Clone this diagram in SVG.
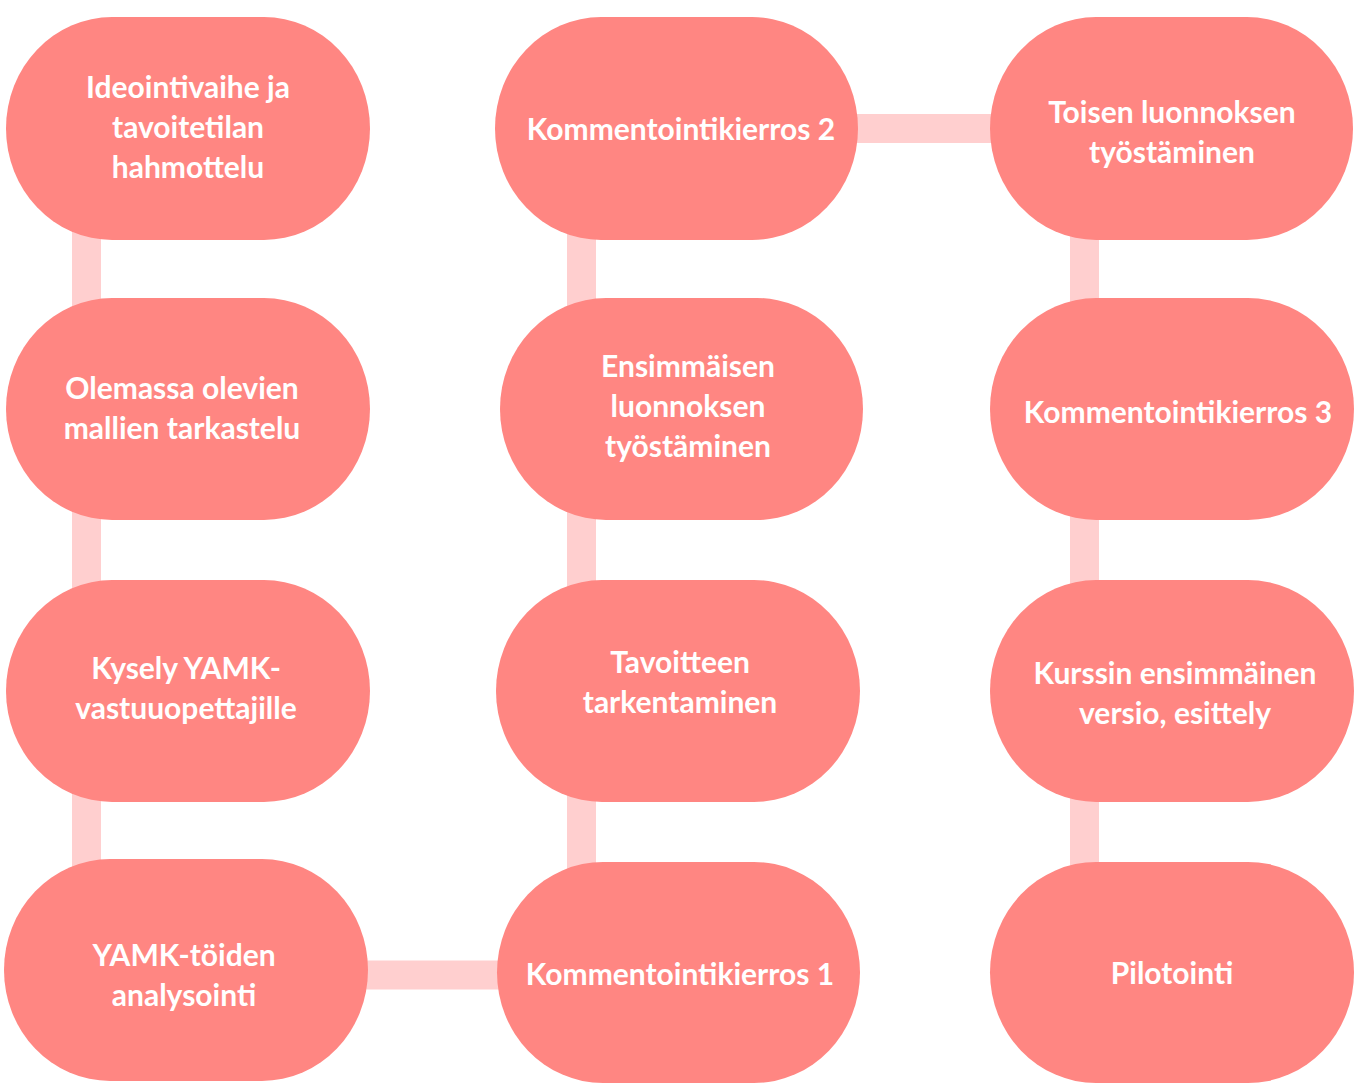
<svg xmlns="http://www.w3.org/2000/svg" width="1356" height="1090" viewBox="0 0 1356 1090">
<style>
.node{fill:#FF8682}
.edge{stroke:#FFCFCF;stroke-width:29;fill:none}
text{font-family:Lato,"Noto Sans",sans-serif;font-weight:bold;font-size:30px;fill:#FFFFFF;text-anchor:middle}
</style>
<rect width="1356" height="1090" fill="#FFFFFF"/>
<g id="connectors">
<line class="edge" x1="86.5" y1="128" x2="86.5" y2="410"/>
<line class="edge" x1="86.5" y1="410" x2="86.5" y2="690"/>
<line class="edge" x1="86.5" y1="690" x2="86.5" y2="975"/>
<path class="edge" d="M72 975 H581.5"/>
<line class="edge" x1="581.5" y1="975" x2="581.5" y2="690"/>
<line class="edge" x1="581.5" y1="690" x2="581.5" y2="410"/>
<line class="edge" x1="581.5" y1="410" x2="581.5" y2="128"/>
<line class="edge" x1="581.5" y1="128.5" x2="1084.5" y2="128.5"/>
<line class="edge" x1="1084.5" y1="128" x2="1084.5" y2="410"/>
<line class="edge" x1="1084.5" y1="410" x2="1084.5" y2="690"/>
<line class="edge" x1="1084.5" y1="690" x2="1084.5" y2="975"/>
</g>
<g id="n1"><rect class="node" x="6" y="17" width="364" height="223" rx="106" ry="111.5"/>
<text x="188" y="98">Ideointivaihe ja</text><text x="188" y="138">tavoitetilan</text><text x="188" y="178">hahmottelu</text></g>
<g id="n2"><rect class="node" x="6" y="298" width="364" height="222" rx="106" ry="111"/>
<text x="182" y="399">Olemassa olevien</text><text x="182" y="439">mallien tarkastelu</text></g>
<g id="n3"><rect class="node" x="6" y="580" width="364" height="222" rx="106" ry="111"/>
<text x="186" y="679">Kysely YAMK-</text><text x="186" y="719">vastuuopettajille</text></g>
<g id="n4"><rect class="node" x="4" y="859" width="364" height="222" rx="106" ry="111"/>
<text x="184" y="966">YAMK-töiden</text><text x="184" y="1006">analysointi</text></g>
<g id="n5"><rect class="node" x="497" y="862" width="363" height="221" rx="106" ry="110.5"/>
<text x="680" y="985">Kommentointikierros 1</text></g>
<g id="n6"><rect class="node" x="496" y="580" width="364" height="222" rx="106" ry="111"/>
<text x="680" y="673">Tavoitteen</text><text x="680" y="713">tarkentaminen</text></g>
<g id="n7"><rect class="node" x="500" y="298" width="363" height="222" rx="106" ry="111"/>
<text x="688" y="377">Ensimmäisen</text><text x="688" y="417">luonnoksen</text><text x="688" y="457">työstäminen</text></g>
<g id="n8"><rect class="node" x="495" y="17" width="363" height="223" rx="106" ry="111.5"/>
<text x="681" y="140">Kommentointikierros 2</text></g>
<g id="n9"><rect class="node" x="990" y="17" width="363" height="223" rx="106" ry="111.5"/>
<text x="1172" y="123">Toisen luonnoksen</text><text x="1172" y="163">työstäminen</text></g>
<g id="n10"><rect class="node" x="990" y="298" width="364" height="222" rx="106" ry="111"/>
<text x="1178" y="423">Kommentointikierros 3</text></g>
<g id="n11"><rect class="node" x="990" y="580" width="364" height="222" rx="106" ry="111"/>
<text x="1175" y="684">Kurssin ensimmäinen</text><text x="1175" y="724">versio, esittely</text></g>
<g id="n12"><rect class="node" x="990" y="862" width="364" height="221" rx="106" ry="110.5"/>
<text x="1172" y="984">Pilotointi</text></g>
</svg>
